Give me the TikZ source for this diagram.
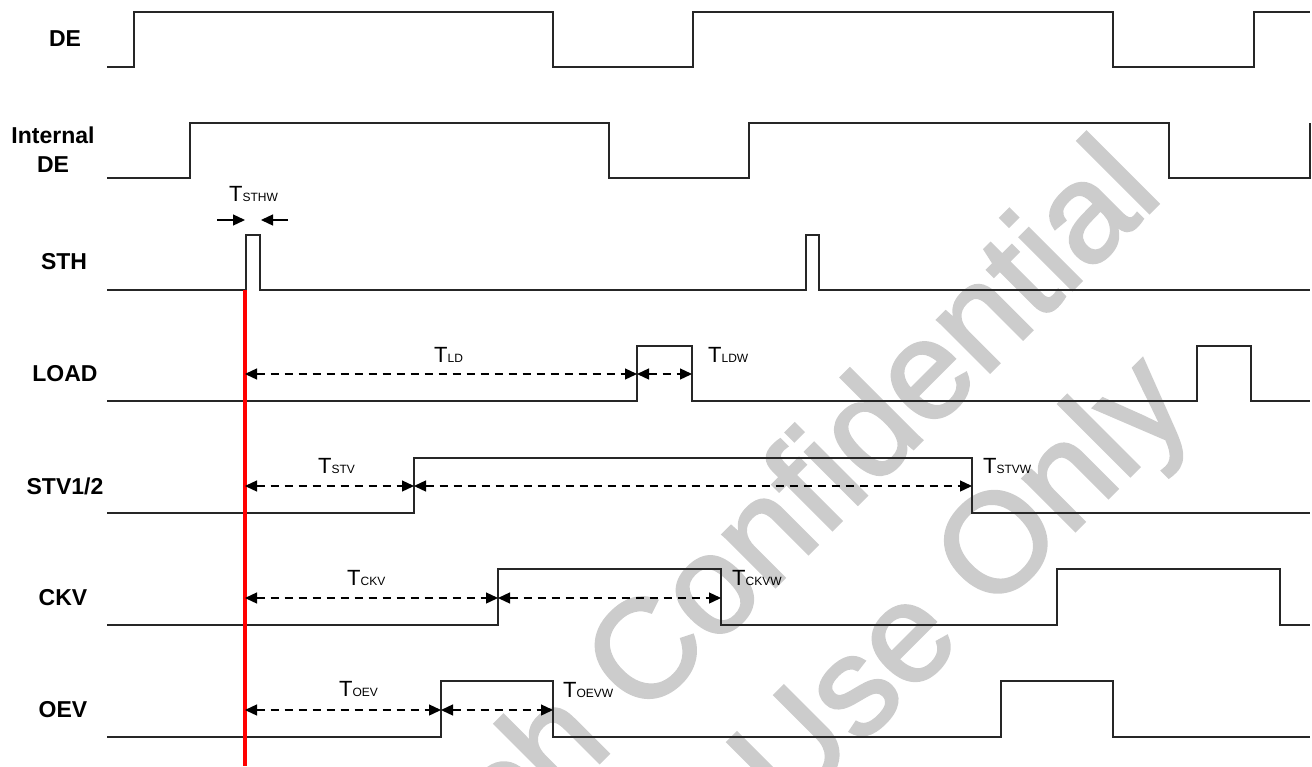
\documentclass[tikz,border=0pt]{standalone}
\usepackage{fontspec}
\setmainfont{Liberation Sans}
\newfontfamily\wmfont[FakeBold=2]{Liberation Sans}
\usetikzlibrary{arrows.meta}

\tikzset{
  wave/.style = {line width=1.4pt, black!85},
  dim/.style = {line width=1.3pt, dash pattern=on 8pt off 6pt,
    {Triangle[length=12pt,width=11pt]}-{Triangle[length=12pt,width=11pt]}},
  push/.style = {line width=1.3pt, -{Triangle[length=12pt,width=11pt]}},
  sig/.style = {font=\fontsize{23}{29}\selectfont\bfseries, align=center},
  tlab/.style = {anchor=base west, inner sep=0pt, font=\fontsize{22}{24}\selectfont},
  wm/.style = {anchor=base west, inner sep=0pt, rotate=45, black!20,
    font=\wmfont\fontsize{140}{140}\selectfont},
}
\newcommand{\tsub}[1]{T{\fontsize{12}{13}\selectfont #1}}

\begin{document}
\begin{tikzpicture}[x=1pt, y=-1pt]
      \useasboundingbox (0, 0) rectangle (1312, 766);

      % watermark
      \begin{scope}
        \clip (0, 0) rectangle (1312, 766);
        \node[wm] (wm1) at (510, 852) {ch Confidential};
        \node[wm] (wm2) at (788, 818) {Use Only};
      \end{scope}

      % signal names
      \node[sig] (de) at (65, 39) {DE};
      \node[sig] (ide) at (53, 150) {Internal\\DE};
      \node[sig] (sth) at (64, 262) {STH};
      \node[sig] (load) at (65, 374) {LOAD};
      \node[sig] (stv) at (65, 486) {STV1/2};
      \node[sig] (ckv) at (63, 598) {CKV};
      \node[sig] (oev) at (63, 710) {OEV};

      % waveforms
      \draw[wave] (107, 67) -- (134, 67) -- (134, 12) -- (553, 12) -- (553, 67) -- (693, 67)
        -- (693, 12) -- (1113, 12) -- (1113, 67) -- (1254, 67) -- (1254, 12) -- (1310, 12);
      \draw[wave] (107, 178) -- (190, 178) -- (190, 123) -- (609, 123) -- (609, 178) -- (749, 178)
        -- (749, 123) -- (1169, 123) -- (1169, 178) -- (1310, 178) -- (1310, 123);
      \draw[wave] (107, 290) -- (246, 290) -- (246, 235) -- (260, 235) -- (260, 290) -- (806, 290)
        -- (806, 235) -- (819, 235) -- (819, 290) -- (1310, 290);
      \draw[wave] (107, 401) -- (637, 401) -- (637, 346) -- (692, 346) -- (692, 401) -- (1197, 401)
        -- (1197, 346) -- (1251, 346) -- (1251, 401) -- (1310, 401);
      \draw[wave] (107, 513) -- (414, 513) -- (414, 458) -- (972, 458) -- (972, 513) -- (1310, 513);
      \draw[wave] (107, 625) -- (498, 625) -- (498, 569) -- (721, 569) -- (721, 625) -- (1057, 625)
        -- (1057, 569) -- (1280, 569) -- (1280, 625) -- (1310, 625);
      \draw[wave] (107, 737) -- (441, 737) -- (441, 681) -- (553, 681) -- (553, 737) -- (1001, 737)
        -- (1001, 681) -- (1113, 681) -- (1113, 737) -- (1310, 737);

      % reference line
      \coordinate (r0) at (245, 290);
      \coordinate (r1) at (245, 766);
      \draw[red, line width=4pt] (r0) -- (r1);

      % edge points
      \coordinate (h0) at (217, 220);
      \coordinate (h1) at (245, 220);
      \coordinate (h2) at (288, 220);
      \coordinate (h3) at (261, 220);
      \coordinate (l0) at (245, 374);
      \coordinate (l1) at (637, 374);
      \coordinate (l2) at (692, 374);
      \coordinate (s0) at (245, 486);
      \coordinate (s1) at (414, 486);
      \coordinate (s2) at (972, 486);
      \coordinate (c0) at (245, 598);
      \coordinate (c1) at (498, 598);
      \coordinate (c2) at (721, 598);
      \coordinate (o0) at (245, 710);
      \coordinate (o1) at (441, 710);
      \coordinate (o2) at (553, 710);

      \draw[push] (h0) -- (h1);
      \draw[push] (h2) -- (h3);
      \draw[dim] (l0) -- (l1);
      \draw[dim] (l1) -- (l2);
      \draw[dim] (s0) -- (s1);
      \draw[dim] (s1) -- (s2);
      \draw[dim] (c0) -- (c1);
      \draw[dim] (c1) -- (c2);
      \draw[dim] (o0) -- (o1);
      \draw[dim] (o1) -- (o2);

      % timing names
      \node[tlab] (tsthw) at (229, 201) {\tsub{STHW}};
      \node[tlab] (tld) at (434, 362) {\tsub{LD}};
      \node[tlab] (tldw) at (708, 362) {\tsub{LDW}};
      \node[tlab] (tstv) at (318, 473) {\tsub{STV}};
      \node[tlab] (tstvw) at (983, 473) {\tsub{STVW}};
      \node[tlab] (tckv) at (347, 585) {\tsub{CKV}};
      \node[tlab] (tckvw) at (732, 585) {\tsub{CKVW}};
      \node[tlab] (toev) at (339, 696) {\tsub{OEV}};
      \node[tlab] (toevw) at (563, 697) {\tsub{OEVW}};
    \end{tikzpicture}
\end{document}
